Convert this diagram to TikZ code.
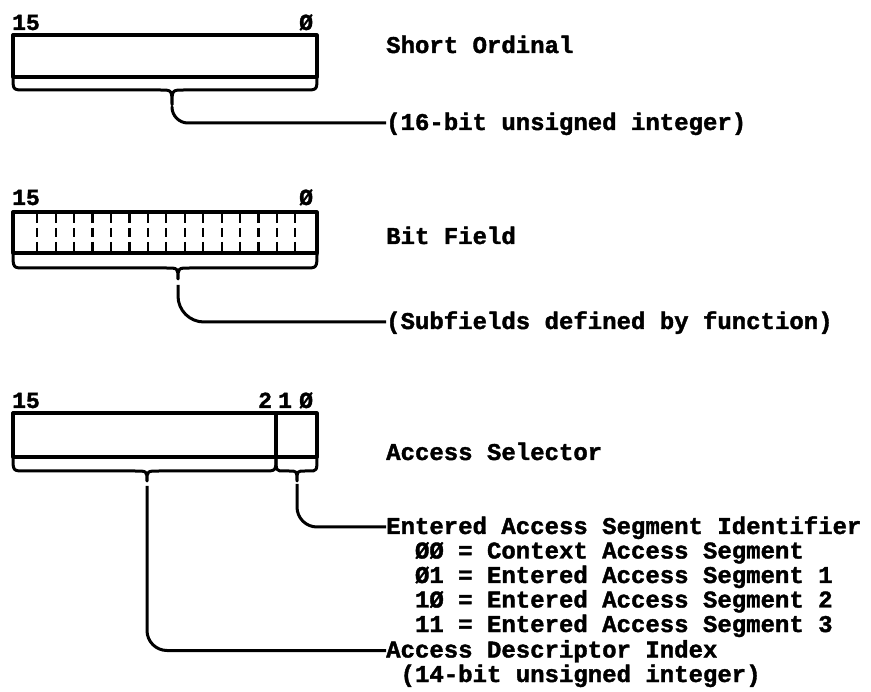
\documentclass[tikz,border=0pt]{standalone}
\usepackage{fontspec}
\setmainfont{Liberation Mono}[BoldFeatures={FakeBold=1.6}]
\begin{document}
\begin{tikzpicture}[x=1pt,y=-1pt,line join=round,
  box/.style={line width=3.2pt},
  brace/.style={line width=3pt},
  conn/.style={line width=3pt,rounded corners=18pt},
  divider/.style={line width=2.2pt,dash pattern=on 9pt off 5pt},
  lbl/.style={font=\fontsize{24}{24.5}\selectfont\bfseries,inner sep=0pt,anchor=base west},
  bitlbl/.style={font=\fontsize{23}{23}\selectfont\bfseries,inner sep=0pt,anchor=base west}]
\useasboundingbox (0,0) rectangle (871,692);

% ---------- Short Ordinal ----------
\node[bitlbl] (a15) at (12,30) {15};
\node[bitlbl] (a0) at (299,30) {Ø};
\draw[box] (13,35) rectangle (317,77);
\draw[brace] (13,77) .. controls (13,90) .. (25,90) -- (160,90) .. controls (172,90) .. (172,105)
  .. controls (172,90) .. (184,90) -- (305,90) .. controls (317,90) .. (317,77);
\coordinate (t1) at (172,105);
\node[lbl] (n1) at (386,53) {Short Ordinal};
\node[lbl] (s1) at (386,130) {(16-bit unsigned integer)};
\draw[conn,rounded corners=16pt] ([yshift=-3pt]t1) |- ([yshift=7pt]s1.base west);

% ---------- Bit Field ----------
\node[bitlbl] (b15) at (12,205) {15};
\node[bitlbl] (b0) at (299,205) {Ø};
\draw[box] (13,212) rectangle (317,253);
\foreach \i in {0,...,14}{
  \draw[divider] ({37.3+18.43*\i},214) -- ({37.3+18.43*\i},252);
}
\draw[brace] (13,253) .. controls (13,268) .. (25,268) -- (166,268) .. controls (178,268) .. (178,279)
  .. controls (178,268) .. (190,268) -- (305,268) .. controls (317,268) .. (317,253);
\coordinate (t2) at (178,279);
\node[lbl] (n2) at (386,244) {Bit Field};
\node[lbl] (s2) at (386,329) {(Subfields defined by function)};
\draw[conn,rounded corners=26pt] ([yshift=-6pt]t2) |- ([yshift=7pt]s2.base west);

% ---------- Access Selector ----------
\node[bitlbl] (c15) at (12,408) {15};
\node[bitlbl] (c2) at (258,408) {2};
\node[bitlbl] (c1) at (278,408) {1};
\node[bitlbl] (c0) at (299,408) {Ø};
\draw[box] (13,413) rectangle (317,457);
\draw[box] (276,413) -- (276,457);
\draw[brace] (13,457) .. controls (13,471) .. (25,471) -- (135,471) .. controls (147,471) .. (147,481)
  .. controls (147,471) .. (159,471) -- (264,471) .. controls (276,471) .. (276,457);
\draw[brace] (276,457) .. controls (276,471) .. (284,471) -- (289,471) .. controls (297,471) .. (297,481)
  .. controls (297,471) .. (305,471) -- (309,471) .. controls (317,471) .. (317,457);
\coordinate (t3) at (147,481);
\coordinate (t4) at (297,481);
\node[lbl] (n3) at (386,460) {Access Selector};
\node[lbl] (s4) at (386,534) {Entered Access Segment Identifier};
\node[lbl] (s4a) at (386,558.5) {\hphantom{XX}ØØ = Context Access Segment};
\node[lbl] (s4b) at (386,583) {\hphantom{XX}Ø1 = Entered Access Segment 1};
\node[lbl] (s4c) at (386,607.5) {\hphantom{XX}1Ø = Entered Access Segment 2};
\node[lbl] (s4d) at (386,632) {\hphantom{XX}11 = Entered Access Segment 3};
\node[lbl] (s3) at (386,657.5) {Access Descriptor Index};
\node[lbl] (s3a) at (386,682) {\hphantom{X}(14-bit unsigned integer)};
\draw[conn,rounded corners=20pt] ([yshift=-5pt]t3) |- ([yshift=7pt]s3.base west);
\draw[conn,rounded corners=20pt] ([yshift=-3pt]t4) |- ([yshift=7pt]s4.base west);
\end{tikzpicture}
\end{document}
